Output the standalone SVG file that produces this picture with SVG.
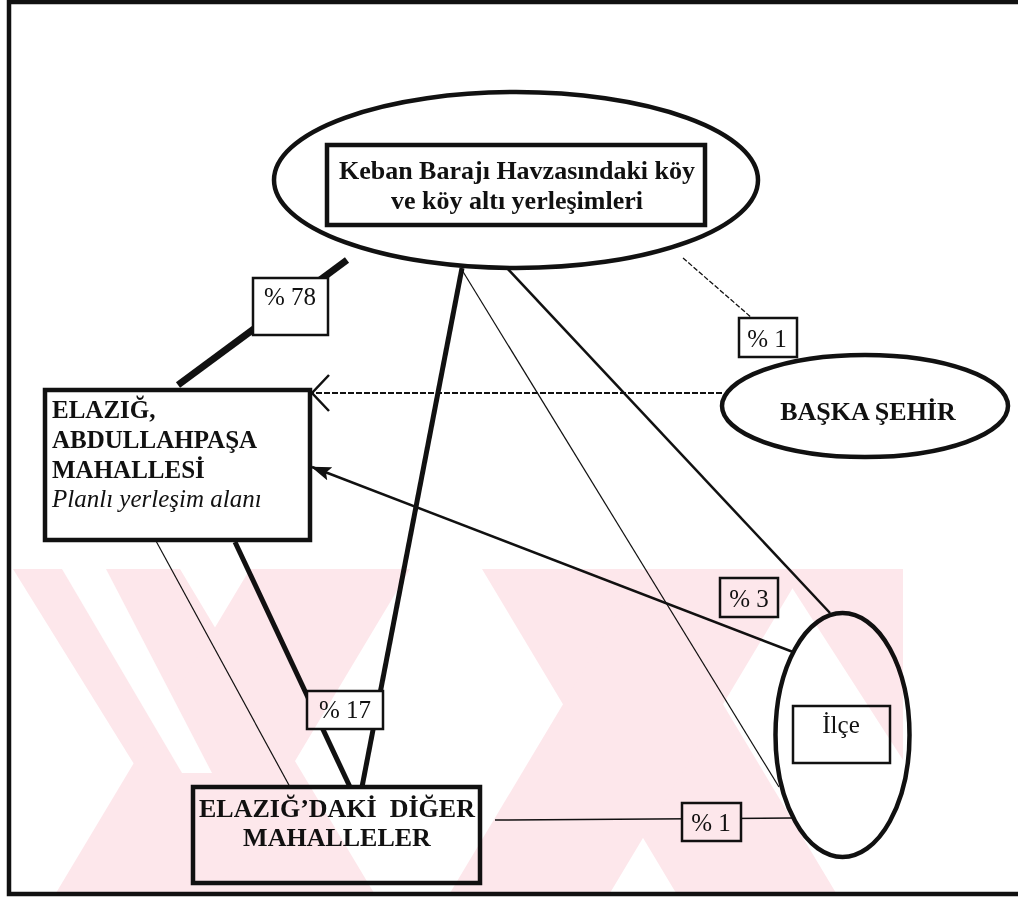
<svg xmlns="http://www.w3.org/2000/svg" width="1018" height="899" viewBox="0 0 1018 899">
<style>
.node{fill:#fff;stroke:#111;stroke-width:4.5}
.lbl{fill:#fff;stroke:#111;stroke-width:2.5}
.b{font-family:"Liberation Serif","Times New Roman",serif;font-weight:bold;font-size:25px;fill:#111}
.b26{font-family:"Liberation Serif","Times New Roman",serif;font-weight:bold;font-size:26px;fill:#111}
.r{font-family:"Liberation Serif","Times New Roman",serif;font-size:25px;fill:#111}
.i{font-family:"Liberation Serif","Times New Roman",serif;font-style:italic;font-size:25px;fill:#111}
.c{stroke:#111;fill:none}
.wm{fill:#fde7eb}
.wg{fill:#fff}
</style>
<defs>
<marker id="arrFill" markerUnits="userSpaceOnUse" viewBox="0 0 20 14" refX="19" refY="7" markerWidth="20" markerHeight="14" orient="auto">
<path d="M0,0 L20,7 L0,14 L4,7 Z" fill="#111"/>
</marker>
<marker id="arrOpen" markerUnits="userSpaceOnUse" viewBox="0 0 20 38" refX="18" refY="19" markerWidth="20" markerHeight="38" orient="auto">
<path d="M1,1 L18,19 L1,37" fill="none" stroke="#111" stroke-width="2.5" stroke-dasharray="none"/>
</marker>
<clipPath id="wmClip"><rect x="13" y="569" width="890" height="324"/></clipPath>
</defs>
<rect width="1018" height="899" fill="#fff"/>
<path d="M1018,2 H9 V894 H1018" fill="none" stroke="#111" stroke-width="4.5"/>

<g id="connectors">
<line class="c" x1="347" y1="260" x2="178" y2="385" stroke-width="7"/>
<line class="c" x1="462" y1="268" x2="362" y2="787" stroke-width="5"/>
<line class="c" x1="235" y1="542" x2="350" y2="787" stroke-width="5"/>
<line class="c" x1="156" y1="541" x2="290" y2="787" stroke-width="1.2"/>
<line class="c" x1="462" y1="270" x2="779" y2="787" stroke-width="1.2"/>
<line class="c" x1="505" y1="266" x2="830" y2="613" stroke-width="2.5"/>
<line class="c" x1="683" y1="258" x2="752" y2="318" stroke-width="1.3" stroke-dasharray="5,2"/>
<line class="c" x1="722" y1="393" x2="312" y2="393" stroke-width="1.8" stroke-dasharray="6,2" marker-end="url(#arrOpen)"/>
<line class="c" x1="793" y1="652" x2="312" y2="467" stroke-width="2.5" marker-end="url(#arrFill)"/>
<line class="c" x1="495" y1="820" x2="792" y2="818" stroke-width="1.5"/>
</g>

<g id="node-keban">
<ellipse class="node" cx="516" cy="180" rx="242" ry="88"/>
<rect class="node" x="327" y="145" width="378" height="80" stroke-width="4"/>
<text class="b26" x="517" y="179" text-anchor="middle">Keban Barajı Havzasındaki köy</text>
<text class="b26" x="517" y="209" text-anchor="middle">ve köy altı yerleşimleri</text>
</g>

<g id="node-abdullahpasa">
<rect class="node" x="45" y="390" width="265" height="150"/>
<text class="b" x="52" y="418">ELAZIĞ,</text>
<text class="b" x="52" y="448">ABDULLAHPAŞA</text>
<text class="b" x="52" y="478">MAHALLESİ</text>
<text class="i" x="52" y="507">Planlı yerleşim alanı</text>
</g>

<g id="node-baska">
<ellipse class="node" cx="865" cy="406" rx="143" ry="51"/>
<text class="b26" x="868" y="420" text-anchor="middle">BAŞKA ŞEHİR</text>
</g>

<g id="node-ilce">
<ellipse class="node" cx="842.5" cy="735" rx="67" ry="122"/>
<rect class="lbl" x="793" y="706" width="97" height="57"/>
<text class="r" x="841" y="733" text-anchor="middle">İlçe</text>
</g>

<g id="node-diger">
<rect class="node" x="193" y="787" width="287" height="96"/>
<text class="b26" x="337" y="817" text-anchor="middle">ELAZIĞ’DAKİ&#160; DİĞER</text>
<text class="b26" x="337" y="846" text-anchor="middle">MAHALLELER</text>
</g>

<g id="labels">
<g id="lbl-78"><rect class="lbl" x="253" y="278" width="75" height="57"/><text class="r" x="290" y="305" text-anchor="middle">% 78</text></g>
<g id="lbl-1a"><rect class="lbl" x="739" y="318" width="58" height="39"/><text class="r" x="767" y="347" text-anchor="middle">% 1</text></g>
<g id="lbl-3"><rect class="lbl" x="720" y="578" width="58" height="39"/><text class="r" x="749" y="607" text-anchor="middle">% 3</text></g>
<g id="lbl-17"><rect class="lbl" x="307" y="691" width="76" height="38"/><text class="r" x="345" y="718" text-anchor="middle">% 17</text></g>
<g id="lbl-1b"><rect class="lbl" x="682" y="803" width="59" height="38"/><text class="r" x="711" y="831" text-anchor="middle">% 1</text></g>
</g>

<g id="watermark" clip-path="url(#wmClip)" style="mix-blend-mode:multiply">
<polygon class="wm" points="13,569 180,569 374,893 214,893"/>
<polygon class="wm" points="250,569 410,569 216,893 56,893"/>
<polygon class="wm" points="482,569 642,569 836,893 676,893"/>
<polygon class="wm" points="644,569 804,569 610,893 450,893"/>
<polygon class="wm" points="780,569 903,569 903,760"/>
<polygon class="wg" points="62,569 106,569 212,773 182,773"/>
</g>
</svg>
